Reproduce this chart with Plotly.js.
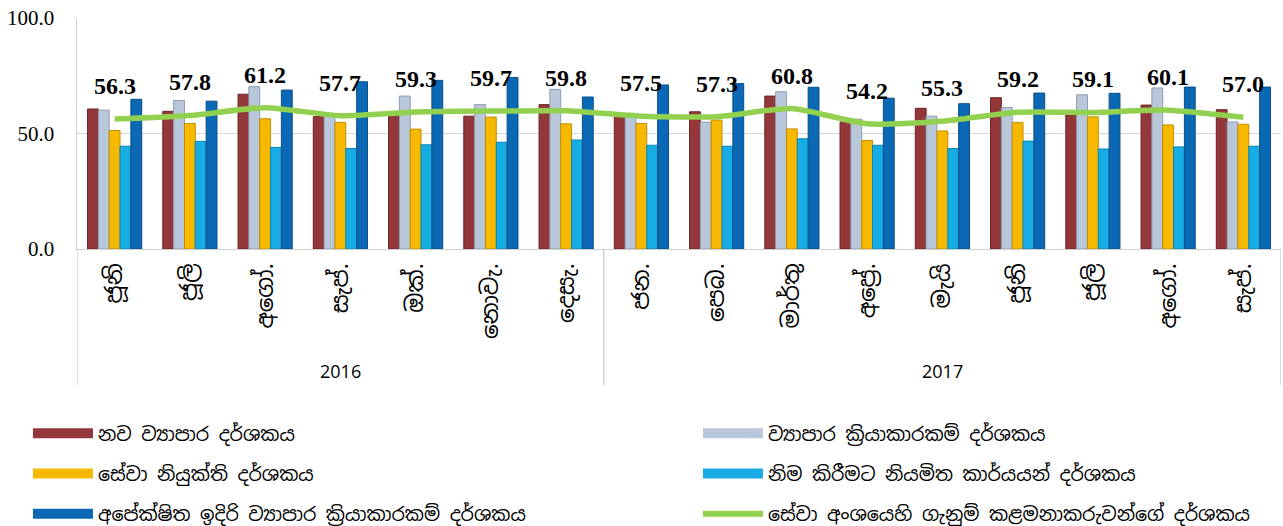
<!DOCTYPE html>
<html>
<head>
<meta charset="utf-8">
<script src="https://cdn.plot.ly/plotly-3.0.1.min.js"></script>
<style>html,body{margin:0;padding:0;background:#fff;}#chart{width:1283px;height:526px;}</style>
</head>
<body>
<div id="chart"></div>
<script>
// ---- data ----
var months2016 = ['ජූනි', 'ජූලි', 'අගෝ.', 'සැප්.', 'ඔක්.', 'නොවැ.', 'දෙසැ.'];
var months2017 = ['ජන.', 'පෙබ.', 'මාර්තු', 'අප්‍රේ.', 'මැයි', 'ජූනි', 'ජූලි', 'අගෝ.', 'සැප්.'];
var years = ['2016', '2017'];

var seriesNames = [
  'නව ව්‍යාපාර දර්ශකය',
  'ව්‍යාපාර ක්‍රියාකාරකම් දර්ශකය',
  'සේවා නියුක්ති දර්ශකය',
  'නිම කිරීමට නියමිත කාර්යයන් දර්ශකය',
  'අපේක්ෂිත ඉදිරි ව්‍යාපාර ක්‍රියාකාරකම් දර්ශකය'
];
var lineName = 'සේවා අංශයෙහි ගැනුම් කළමනාකරුවන්ගේ දර්ශකය';

var newBusiness      = [60.6, 59.6, 67.0, 57.3, 59.5, 57.5, 62.5, 58.0, 59.4, 66.2, 55.0, 60.9, 65.5, 58.0, 62.3, 60.3];
var businessActivity = [60.1, 64.3, 70.3, 58.0, 66.2, 62.5, 69.1, 57.5, 54.9, 68.1, 56.2, 57.5, 61.3, 66.8, 69.7, 55.0];
var employment       = [51.3, 54.3, 56.4, 54.8, 51.9, 57.1, 54.2, 54.3, 55.8, 52.0, 47.0, 51.1, 54.8, 57.2, 53.7, 54.0];
var backlog          = [44.5, 46.6, 44.0, 43.5, 45.1, 46.2, 47.2, 44.9, 44.5, 47.7, 44.9, 43.5, 46.7, 43.3, 44.2, 44.5];
var expectedActivity = [64.8, 64.0, 68.8, 72.4, 73.0, 74.2, 65.8, 71.0, 71.6, 70.0, 65.3, 62.9, 67.5, 67.4, 70.1, 70.1];
var pmiServices      = [56.3, 57.8, 61.2, 57.7, 59.3, 59.7, 59.8, 57.5, 57.3, 60.8, 54.2, 55.3, 59.2, 59.1, 60.1, 57.0];

// ---- build ----
var monthLabels = months2016.concat(months2017);
var xIdx = monthLabels.map(function(_, i){ return i; });
var n2016 = months2016.length, nAll = monthLabels.length;

var barSeries = [newBusiness, businessActivity, employment, backlog, expectedActivity];
var barColors = ['#94373A', '#B9C7DA', '#F7B800', '#17ADE4', '#0A68B4'];
var barLines  = ['#6E2426', '#8E9DB3', '#C48F00', '#0A86B5', '#074E88'];
var legendFor = ['legend', 'legend2', 'legend', 'legend2', 'legend'];

var sinhalaFont = '"Noto Sans Sinhala", "Iskoola Pota", "Nirmala UI", "Noto Sans", sans-serif';
var serifFont = '"Liberation Serif", "Times New Roman", serif';

var traces = [];
barSeries.forEach(function(vals, k){
  traces.push({
    type: 'bar', x: xIdx, y: vals, name: seriesNames[k],
    marker: {color: barColors[k], line: {color: barLines[k], width: 1}},
    showlegend: false, hoverinfo: 'y'
  });
});
traces.push({
  type: 'scatter', mode: 'lines', x: xIdx, y: pmiServices, name: lineName,
  line: {color: '#92D050', width: 5.5, shape: 'spline', smoothing: 0.6},
  showlegend: false
});
// legend entries
barSeries.forEach(function(vals, k){
  traces.push({
    type: 'scatter', mode: 'lines', x: [null], y: [null], name: seriesNames[k],
    line: {color: barColors[k], width: 13}, legend: legendFor[k], legendgroup: 'g' + k,
    hoverinfo: 'skip'
  });
});
traces.push({
  type: 'scatter', mode: 'lines', x: [null], y: [null], name: lineName,
  line: {color: '#92D050', width: 6}, legend: 'legend2', legendgroup: 'g5',
  hoverinfo: 'skip'
});

var annotations = pmiServices.map(function(v, i){
  return {
    x: i, y: v, xref: 'x', yref: 'y', text: '<b>' + v.toFixed(1) + '</b>', showarrow: false,
    yanchor: 'middle', yshift: 33,
    font: {family: serifFont, size: 24, color: '#000'}
  };
});
// year group labels
annotations.push({x: (n2016 - 1) / 2, y: -0.528, xref: 'x', yref: 'paper', text: years[0],
  showarrow: false, yanchor: 'middle', font: {family: '"Open Sans", sans-serif', size: 18, color: '#000'}});
annotations.push({x: (n2016 + nAll - 1) / 2, y: -0.528, xref: 'x', yref: 'paper', text: years[1],
  showarrow: false, yanchor: 'middle', font: {family: '"Open Sans", sans-serif', size: 18, color: '#000'}});

// category-axis dividers
var dividerXs = [-0.5, n2016 - 0.5, nAll - 0.5];
var shapes = dividerXs.map(function(xv){
  return {type: 'line', xref: 'x', yref: 'paper', x0: xv, x1: xv, y0: 0, y1: -0.59,
    line: {color: '#D0D0D0', width: 1.5}};
});

var legendCommon = {
  orientation: 'v', xanchor: 'left', yanchor: 'top', bgcolor: 'rgba(0,0,0,0)',
  xref: 'container', yref: 'container',
  font: {family: sinhalaFont, size: 19, color: '#000'}, itemwidth: 60, tracegroupgap: 12.5,
  traceorder: 'grouped'
};

var layout = {
  width: 1283, height: 526,
  margin: {l: 77, r: 2, t: 18, b: 277, autoexpand: false},
  paper_bgcolor: '#fff', plot_bgcolor: '#fff',
  barmode: 'group', bargap: 0.28, bargroupgap: 0,
  showlegend: true,
  xaxis: {
    type: 'linear', range: [-0.5, nAll - 0.5], automargin: false,
    tickmode: 'array', tickvals: xIdx, ticktext: monthLabels, tickangle: -90,
    tickfont: {family: sinhalaFont, size: 23, color: '#000'},
    showline: true, linecolor: '#D0D0D0', linewidth: 1,
    ticks: '', showgrid: false, zeroline: false, ticklabelstandoff: 4
  },
  yaxis: {
    range: [0, 100], dtick: 50, tickformat: '.1f', automargin: false,
    tickfont: {family: serifFont, size: 21, color: '#000'},
    showgrid: true, gridcolor: '#D9D9D9', gridwidth: 1,
    zeroline: true, zerolinecolor: '#D0D0D0', zerolinewidth: 1,
    showline: true, linecolor: '#D0D0D0', linewidth: 1.5, ticks: '', ticklabelstandoff: 17
  },
  legend: Object.assign({}, legendCommon, {x: 0.0218, y: 0.212}),
  legend2: Object.assign({}, legendCommon, {x: 0.544, y: 0.212}),
  annotations: annotations,
  shapes: shapes
};

Plotly.newPlot('chart', traces, layout, {displayModeBar: false, staticPlot: true});
</script>
</body>
</html>
